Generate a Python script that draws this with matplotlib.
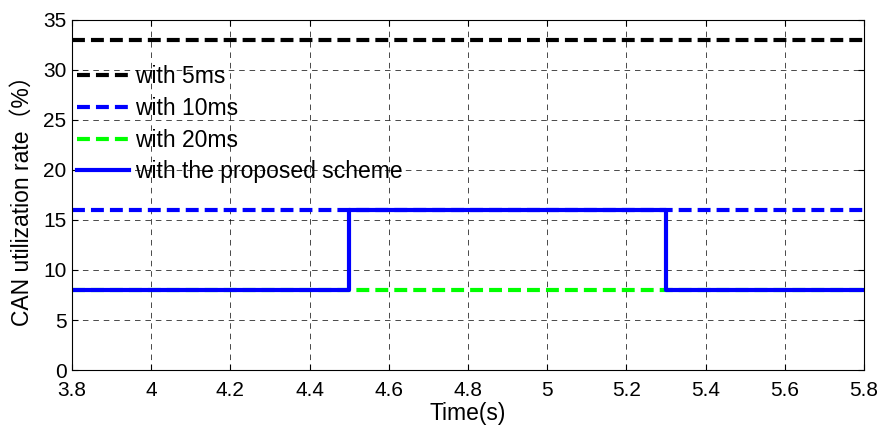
import numpy as np
import matplotlib
matplotlib.use("Agg")
import matplotlib.pyplot as plt

plt.rcParams['font.family'] = ['Liberation Sans', 'Noto Sans CJK SC', 'DejaVu Sans']

# datos
t_inicio = 3.8
t_fin = 5.8
tasa_5ms = 33
tasa_10ms = 16
tasa_20ms = 8
t_propuesto = [3.8, 4.5, 4.5, 5.3, 5.3, 5.8]
tasa_propuesto = [8, 8, 16, 16, 8, 8]
etiquetas = ['with 5ms', 'with 10ms', 'with 20ms', 'with the proposed scheme']
xticks = [3.8, 4.0, 4.2, 4.4, 4.6, 4.8, 5.0, 5.2, 5.4, 5.6, 5.8]
yticks = [0, 5, 10, 15, 20, 25, 30, 35]

fig = plt.figure(figsize=(8.81, 4.29), dpi=100)
ax = fig.add_axes([0.0817, 0.1375, 0.899, 0.816])

guion = (0, (3.1, 1.45))
lw = 3
ax.plot([t_inicio, t_fin], [tasa_5ms, tasa_5ms], color='k', lw=lw, linestyle=guion, label=etiquetas[0])
ax.plot([t_inicio, t_fin], [tasa_10ms, tasa_10ms], color=(0, 0, 1), lw=lw, linestyle=guion, label=etiquetas[1])
ax.plot([t_inicio, t_fin], [tasa_20ms, tasa_20ms], color=(0, 1, 0), lw=lw, linestyle=guion, label=etiquetas[2])
ax.plot(t_propuesto, tasa_propuesto, color=(0, 0, 1), lw=lw, label=etiquetas[3])

ax.set_xlim(t_inicio, t_fin)
ax.set_ylim(0, 35)
ax.set_xticks(xticks)
ax.set_xticklabels(['%g' % v for v in xticks])
ax.set_yticks(yticks)
ax.tick_params(direction='in', top=True, right=True, labelsize=15, length=4, width=0.8, pad=4)
ax.tick_params(axis='x', pad=8)
ax.grid(True, color='k', linewidth=0.5, linestyle=(0, (8, 7)))
for s in ax.spines.values():
    s.set_linewidth(0.8)

ax.set_xlabel('Time(s)', fontsize=16.5, labelpad=1.5)
ax.set_ylabel('CAN utilization rate（%）', fontsize=16.5, labelpad=7)

ax.legend(loc='upper left', bbox_to_anchor=(0.0, 0.884), frameon=False, fontsize=16.5,
          handlelength=2.27, handletextpad=0.26, labelspacing=0.38, borderaxespad=0.0,
          borderpad=0.2)

fig.savefig('out.png', dpi=100)
